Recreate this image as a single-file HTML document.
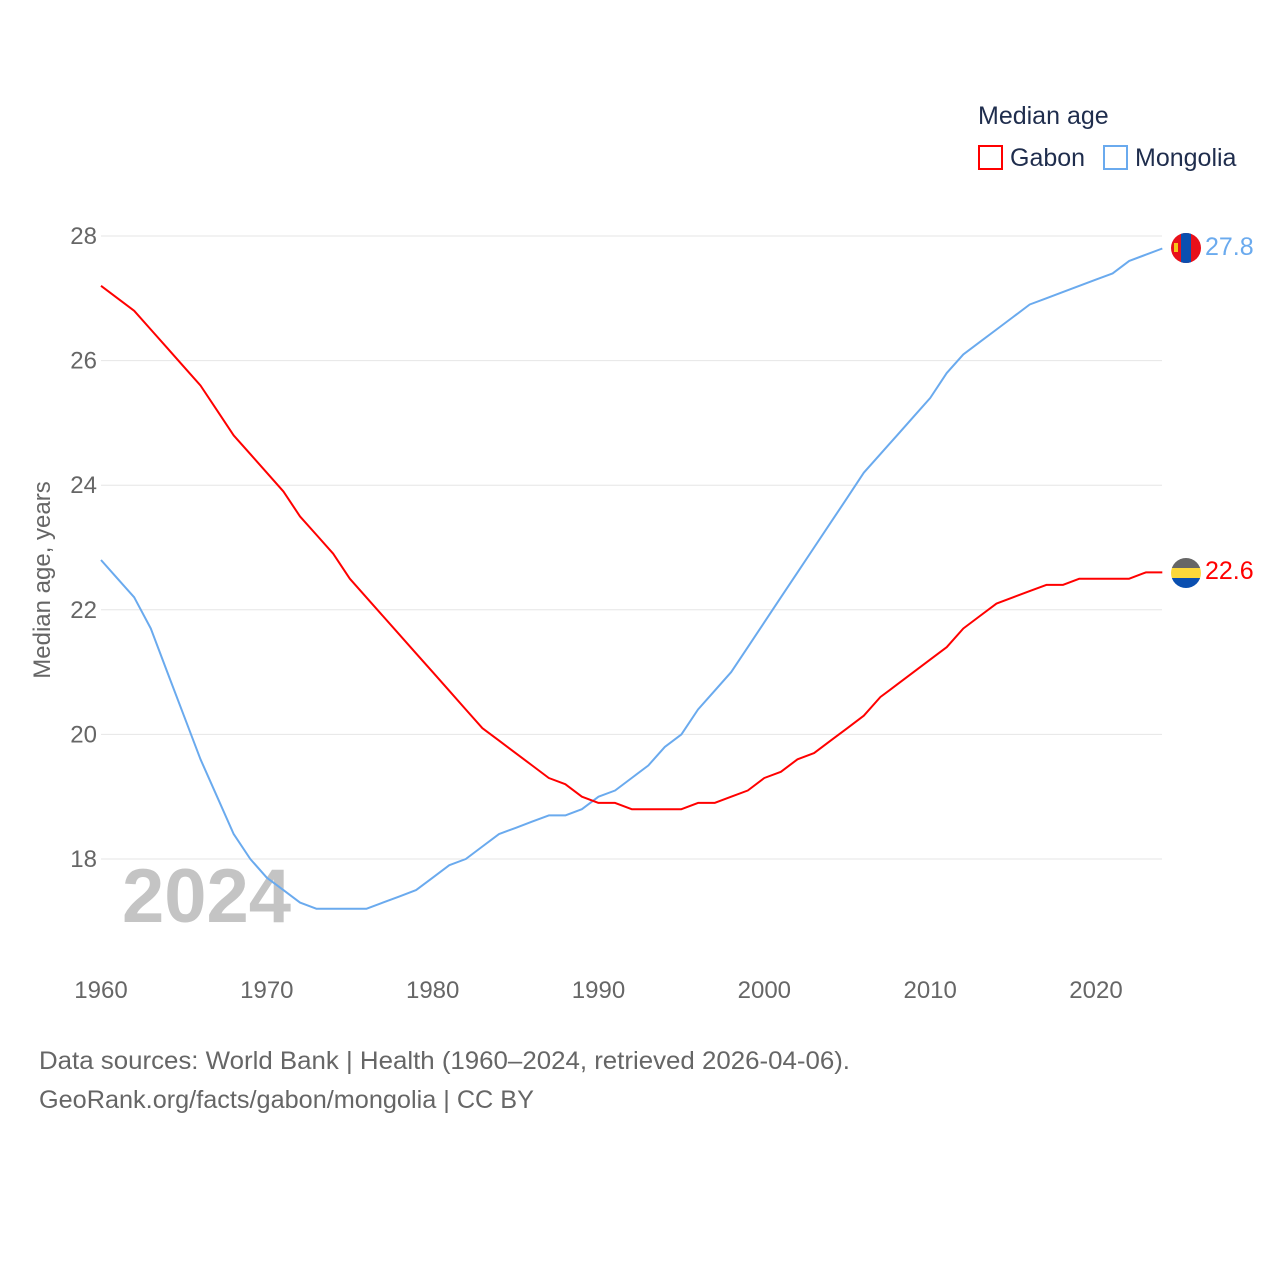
<!DOCTYPE html>
<html><head><meta charset="utf-8"><style>
body{margin:0;background:#fff;font-family:"Liberation Sans",sans-serif;}
svg text{font-family:"Liberation Sans",sans-serif;}
</style></head><body>
<svg id="chart" width="1280" height="1280" xmlns="http://www.w3.org/2000/svg">
<defs>
<clipPath id="cm"><circle cx="1186" cy="248" r="15"/></clipPath>
<clipPath id="cg"><circle cx="1186" cy="573" r="15"/></clipPath>
</defs>
<g id="grid"></g>
<g id="yticks"></g>
<g id="xticks"></g>
<text transform="translate(50,580) rotate(-90)" text-anchor="middle" font-size="24" fill="#666">Median age, years</text>
<text x="122" y="922" font-size="76" font-weight="bold" fill="#c4c4c4">2024</text>
<g id="lines"></g>
<g>
<text x="978" y="124" font-size="25" fill="#1f2d4d">Median age</text>
<rect x="979" y="146" width="23" height="23" fill="none" stroke="#f00" stroke-width="2"/>
<text x="1010" y="166" font-size="25" fill="#1f2d4d">Gabon</text>
<rect x="1104" y="146" width="23" height="23" fill="none" stroke="#6aaaee" stroke-width="2"/>
<text x="1135" y="166" font-size="25" fill="#1f2d4d">Mongolia</text>
</g>
<g clip-path="url(#cm)">
<rect x="1171" y="233" width="30" height="30" fill="#e8101a"/>
<rect x="1181" y="233" width="10" height="30" fill="#0a4fb0"/>
<rect x="1174" y="243" width="4" height="9" fill="#f5c518"/>
</g>
<g clip-path="url(#cg)">
<rect x="1171" y="558" width="30" height="10" fill="#666"/>
<rect x="1171" y="568" width="30" height="10" fill="#fcd83a"/>
<rect x="1171" y="578" width="30" height="10" fill="#0a4fb0"/>
</g>
<text x="1205" y="255" font-size="25" fill="#6aaaee">27.8</text>
<text x="1205" y="579" font-size="25" fill="#f00">22.6</text>
<text x="39" y="1069" font-size="25" fill="#666" textLength="811" lengthAdjust="spacingAndGlyphs">Data sources: World Bank | Health (1960–2024, retrieved 2026-04-06).</text>
<text x="39" y="1108" font-size="25" fill="#666" textLength="495" lengthAdjust="spacingAndGlyphs">GeoRank.org/facts/gabon/mongolia | CC BY</text>
</svg>
<script>
const startYear = 1960;
const gabon = [27.2,27.0,26.8,26.5,26.2,25.9,25.6,25.2,24.8,24.5,24.2,23.9,23.5,23.2,22.9,22.5,22.2,21.9,21.6,21.3,21.0,20.7,20.4,20.1,19.9,19.7,19.5,19.3,19.2,19.0,18.9,18.9,18.8,18.8,18.8,18.8,18.9,18.9,19.0,19.1,19.3,19.4,19.6,19.7,19.9,20.1,20.3,20.6,20.8,21.0,21.2,21.4,21.7,21.9,22.1,22.2,22.3,22.4,22.4,22.5,22.5,22.5,22.5,22.6,22.6];
const mongolia = [22.8,22.5,22.2,21.7,21.0,20.3,19.6,19.0,18.4,18.0,17.7,17.5,17.3,17.2,17.2,17.2,17.2,17.3,17.4,17.5,17.7,17.9,18.0,18.2,18.4,18.5,18.6,18.7,18.7,18.8,19.0,19.1,19.3,19.5,19.8,20.0,20.4,20.7,21.0,21.4,21.8,22.2,22.6,23.0,23.4,23.8,24.2,24.5,24.8,25.1,25.4,25.8,26.1,26.3,26.5,26.7,26.9,27.0,27.1,27.2,27.3,27.4,27.6,27.7,27.8];
const yTicks = [18,20,22,24,26,28];
const xTicks = [1960,1970,1980,1990,2000,2010,2020];
const NS = "http://www.w3.org/2000/svg";
const x = yr => 101 + (yr - 1960) * (995/60);
const y = v => 859 - (v - 18) * 62.3;
function mk(tag, parent){const e=document.createElementNS(NS,tag);parent.appendChild(e);return e;}
const grid=document.getElementById('grid'), yt=document.getElementById('yticks'), xt=document.getElementById('xticks');
yTicks.forEach(t=>{
  const l=mk('line',grid);
  
  
  l.setAttribute('x1',101);l.setAttribute('x2',1162);l.setAttribute('y1',y(t));l.setAttribute('y2',y(t));
  l.setAttribute('stroke','#e6e6e6');l.setAttribute('stroke-width','1');
  const tx=mk('text',yt);
  
  
  tx.setAttribute('x',97);tx.setAttribute('y',y(t)+8);tx.setAttribute('text-anchor','end');
  tx.setAttribute('font-size','24');tx.setAttribute('fill','#666');tx.textContent=t;
});
xTicks.forEach(t=>{
  const tx=mk('text',xt);
  
  
  tx.setAttribute('x',x(t));tx.setAttribute('y',998);tx.setAttribute('text-anchor','middle');
  tx.setAttribute('font-size','24');tx.setAttribute('fill','#666');tx.textContent=t;
});
const lines=document.getElementById('lines');
[[mongolia,'#6aaaee','mongolia-line'],[gabon,'#f00','gabon-line']].forEach(([d,c,n])=>{
  const p=mk('path',lines);
  
  
  p.setAttribute('d',d.map((v,i)=>(i?'L':'M')+x(startYear+i).toFixed(1)+' '+y(v).toFixed(1)).join(' '));
  p.setAttribute('fill','none');p.setAttribute('stroke',c);p.setAttribute('stroke-width','2');
  p.setAttribute('stroke-linejoin','round');
});
</script>
</body></html>
